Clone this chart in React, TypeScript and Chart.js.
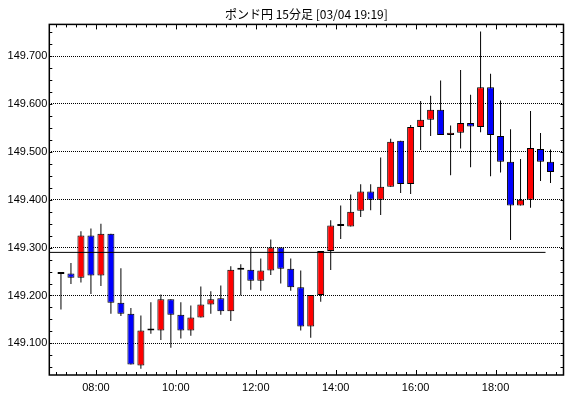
import { useEffect, useRef } from 'react';
import { Chart, registerables } from 'chart.js';

Chart.register(...registerables);

const TITLE = 'ポンド円 15分足 [03/04 19:19]';

const TIMES = [
  '07:00', '07:15', '07:30', '07:45', '08:00', '08:15', '08:30', '08:45',
  '09:00', '09:15', '09:30', '09:45', '10:00', '10:15', '10:30', '10:45',
  '11:00', '11:15', '11:30', '11:45', '12:00', '12:15', '12:30', '12:45',
  '13:00', '13:15', '13:30', '13:45', '14:00', '14:15', '14:30', '14:45',
  '15:00', '15:15', '15:30', '15:45', '16:00', '16:15', '16:30', '16:45',
  '17:00', '17:15', '17:30', '17:45', '18:00', '18:15', '18:30', '18:45',
  '19:00', '19:15',
];

const OPEN = [
  149.245, 149.246, 149.237, 149.325, 149.242, 149.329, 149.185, 149.162,
  149.054, 149.127, 149.127, 149.192, 149.160, 149.127, 149.154, 149.181,
  149.194, 149.167, 149.254, 149.254, 149.231, 149.252, 149.300, 149.256,
  149.217, 149.135, 149.201, 149.293, 149.345, 149.344, 149.377, 149.417,
  149.400, 149.427, 149.523, 149.433, 149.552, 149.567, 149.588, 149.535,
  149.540, 149.560, 149.552, 149.635, 149.533, 149.479, 149.388, 149.400,
  149.506, 149.479,
];
const HIGH = [
  149.246, 149.268, 149.334, 149.340, 149.350, 149.329, 149.257, 149.174,
  149.158, 149.186, 149.202, 149.192, 149.186, 149.179, 149.219, 149.209,
  149.221, 149.261, 149.265, 149.300, 149.277, 149.317, 149.300, 149.277,
  149.252, 149.201, 149.293, 149.357, 149.388, 149.411, 149.432, 149.432,
  149.488, 149.527, 149.523, 149.556, 149.606, 149.617, 149.649, 149.555,
  149.671, 149.619, 149.751, 149.663, 149.607, 149.547, 149.485, 149.585,
  149.539, 149.505,
];
const LOW = [
  149.171, 149.224, 149.227, 149.203, 149.220, 149.162, 149.157, 149.056,
  149.047, 149.120, 149.107, 149.091, 149.110, 149.116, 149.154, 149.162,
  149.160, 149.147, 149.200, 149.212, 149.210, 149.243, 149.225, 149.210,
  149.127, 149.112, 149.187, 149.253, 149.318, 149.344, 149.364, 149.378,
  149.368, 149.427, 149.414, 149.412, 149.504, 149.533, 149.535, 149.451,
  149.507, 149.468, 149.541, 149.449, 149.457, 149.316, 149.388, 149.383,
  149.439, 149.435,
];
const CLOSE = [
  149.245, 149.237, 149.325, 149.242, 149.329, 149.185, 149.162, 149.056,
  149.127, 149.127, 149.192, 149.160, 149.127, 149.154, 149.181, 149.192,
  149.167, 149.254, 149.254, 149.231, 149.252, 149.300, 149.256, 149.217,
  149.135, 149.201, 149.293, 149.346, 149.345, 149.375, 149.417, 149.400,
  149.427, 149.521, 149.433, 149.552, 149.567, 149.588, 149.535, 149.540,
  149.560, 149.553, 149.635, 149.535, 149.479, 149.388, 149.400, 149.508,
  149.479, 149.458,
];

const REF_LINE = 149.29;
const REF_LINE_END = '19:15';

const X_LABELS = ['08:00', '10:00', '12:00', '14:00', '16:00', '18:00'];
const Y_TICKS = [149.1, 149.2, 149.3, 149.4, 149.5, 149.6, 149.7];
const X_MIN = '06:50';
const X_MAX = '19:42';
const Y_MIN = 149.034;
const Y_MAX = 149.766;

const UP = '#ff0000';
const DOWN = '#0000ff';
const FLAT = '#000000';

const toMin = (s: string) => {
  const [h, m] = s.split(':').map(Number);
  return h * 60 + m;
};
const fmt = (v: number) => {
  const h = Math.floor(v / 60);
  const m = Math.round(v - h * 60);
  return `${String(h).padStart(2, '0')}:${String(m).padStart(2, '0')}`;
};

const framePlugin = {
  id: 'frame',
  afterDatasetsDraw(chart: any) {
    const { ctx, chartArea } = chart;
    const { left, right, top, bottom } = chartArea;
    const xs = chart.scales.x;
    const ys = chart.scales.y;
    ctx.save();
    ctx.strokeStyle = '#000';
    ctx.lineWidth = 1;
    ctx.beginPath();
    const xmin = toMin(X_MIN);
    const xmax = toMin(X_MAX);
    for (let t = Math.ceil(xmin / 15) * 15; t <= xmax; t += 15) {
      const px = Math.round(xs.getPixelForValue(t)) + 0.5;
      const len = t % 120 === 0 ? 5 : 3;
      ctx.moveTo(px, top);
      ctx.lineTo(px, top + len);
      ctx.moveTo(px, bottom);
      ctx.lineTo(px, bottom - len);
    }
    for (let k = Math.ceil(Y_MIN / 0.025); k * 0.025 <= Y_MAX; k++) {
      const py = Math.round(ys.getPixelForValue(k * 0.025)) + 0.5;
      const len = 3;
      ctx.moveTo(left, py);
      ctx.lineTo(left + len, py);
      ctx.moveTo(right, py);
      ctx.lineTo(right - len, py);
    }
    ctx.stroke();
    ctx.lineWidth = 1.5;
    ctx.strokeRect(left, top, right - left, bottom - top);
    ctx.restore();
  },
};

export default function App() {
  const ref = useRef<HTMLCanvasElement>(null);

  useEffect(() => {
    if (!ref.current) return;
    const colors = OPEN.map((o, i) => (CLOSE[i] > o ? UP : CLOSE[i] < o ? DOWN : FLAT));
    const font = { family: '"Liberation Sans", Arial, sans-serif', size: 11 };
    const chart = new Chart(ref.current, {
      type: 'bar',
      data: {
        datasets: [
          {
            type: 'line',
            data: [
              { x: toMin(X_MIN), y: REF_LINE },
              { x: toMin(REF_LINE_END), y: REF_LINE },
            ],
            borderColor: '#000',
            borderWidth: 1,
            pointRadius: 0,
            order: 0,
          } as any,
          {
            data: TIMES.map((t, i) => ({ x: toMin(t) + 7.5, y: [OPEN[i], CLOSE[i]] })),
            backgroundColor: colors,
            borderColor: '#000',
            borderWidth: 1,
            borderSkipped: false,
            barThickness: 7,
            minBarLength: 2,
            grouped: false,
            inflateAmount: 0,
            order: 1,
          } as any,
          {
            data: TIMES.map((t, i) => ({ x: toMin(t) + 7.5, y: [LOW[i], HIGH[i]] })),
            backgroundColor: '#000',
            borderWidth: 0,
            barThickness: 1,
            grouped: false,
            inflateAmount: 0,
            order: 2,
          } as any,
        ],
      },
      options: {
        animation: false,
        responsive: false,
        layout: { padding: { left: 0, right: 6.5, top: 0, bottom: 0 } },
        plugins: {
          legend: { display: false },
          tooltip: { enabled: false },
          title: {
            display: true,
            text: TITLE,
            fullSize: false,
            color: '#000',
            font: { family: '"Noto Sans CJK JP", sans-serif', size: 12, weight: 'normal' },
            padding: { top: 7, bottom: 3 },
          },
        },
        scales: {
          x: {
            type: 'linear',
            min: toMin(X_MIN),
            max: toMin(X_MAX),
            offset: false,
            grid: { display: false, drawTicks: false },
            border: { display: false },
            afterBuildTicks: (s: any) => {
              s.ticks = X_LABELS.map((l) => ({ value: toMin(l) }));
            },
            afterFit: (s: any) => {
              s.height = 23;
            },
            ticks: {
              callback: (v: any) => fmt(Number(v)),
              color: '#000',
              font,
              padding: 6,
              maxRotation: 0,
              autoSkip: false,
            },
          },
          y: {
            type: 'linear',
            min: Y_MIN,
            max: Y_MAX,
            grid: { color: '#000', lineWidth: 1, drawTicks: false },
            border: { display: false, dash: [1, 1] },
            afterBuildTicks: (s: any) => {
              s.ticks = Y_TICKS.map((v) => ({ value: v }));
            },
            afterFit: (s: any) => {
              s.width = 49.3;
            },
            ticks: {
              callback: (v: any) => Number(v).toFixed(3),
              color: '#000',
              font,
              padding: 2,
            },
          },
        },
      } as any,
      plugins: [framePlugin],
    });
    return () => chart.destroy();
  }, []);

  return (
    <div style={{ position: 'absolute', left: 0, top: 0, width: 570, height: 398, background: '#fff' }}>
      <canvas ref={ref} width={570} height={398} style={{ display: 'block' }} />
    </div>
  );
}
